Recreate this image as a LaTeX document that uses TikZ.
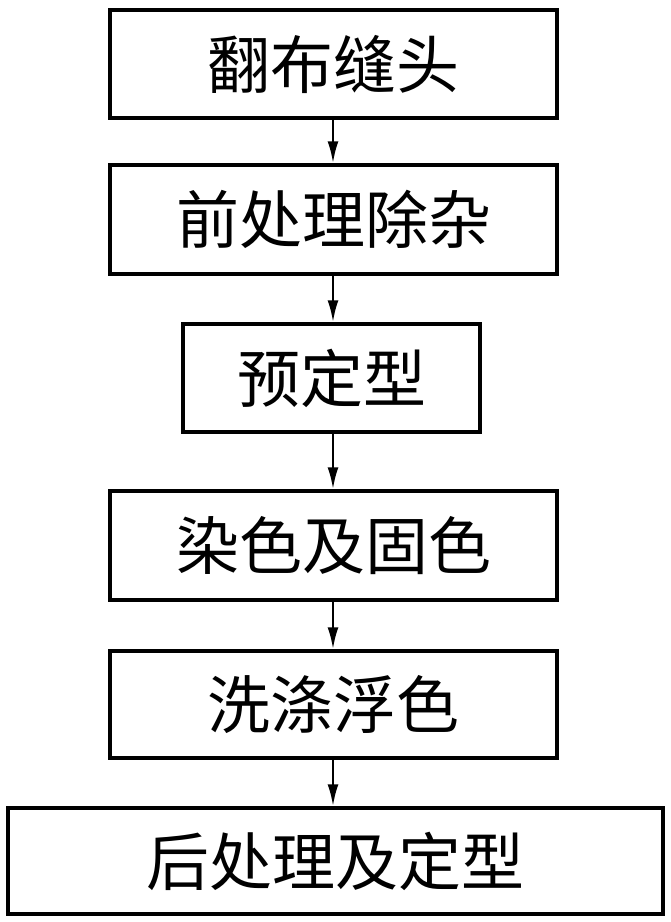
\documentclass[tikz,border=0pt]{standalone}
\usepackage{fontspec}
\newfontfamily\cjk{Noto Sans CJK SC}
\usetikzlibrary{arrows.meta}
\begin{document}
\begin{tikzpicture}[x=1pt,y=-1pt,
  box/.style={draw,line width=3.5pt,inner sep=0pt,font=\cjk\fontsize{63}{63}\selectfont},
  arr/.style={line width=2.5pt,-{Latex[length=22pt,width=11pt]}}]
\useasboundingbox (0,0) rectangle (671,922);
\node[box,minimum width=447pt,minimum height=108pt] (a) at (333.5,64) {翻布缝头};
\node[box,minimum width=447pt,minimum height=109pt] (b) at (333.5,219.5) {前处理除杂};
\node[box,minimum width=297pt,minimum height=108pt] (c) at (331.5,378) {预定型};
\node[box,minimum width=447pt,minimum height=109pt] (d) at (333.5,545.5) {染色及固色};
\node[box,minimum width=447pt,minimum height=107pt] (e) at (333.5,704.5) {洗涤浮色};
\node[box,minimum width=655pt,minimum height=106pt] (f) at (335.5,861) {后处理及定型};
\draw[arr] (a.south -| 333,0) -- (b.north -| 333,0);
\draw[arr] (b.south -| 333,0) -- (c.north -| 333,0);
\draw[arr] (c.south -| 333,0) -- (d.north -| 333,0);
\draw[arr] (d.south -| 333,0) -- (e.north -| 333,0);
\draw[arr] (e.south -| 333,0) -- (f.north -| 333,0);
\end{tikzpicture}
\end{document}
